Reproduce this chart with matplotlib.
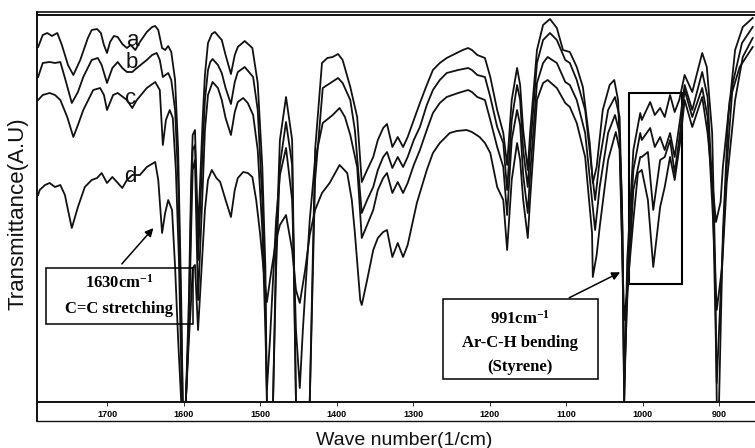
import matplotlib
matplotlib.use("Agg")
import matplotlib.pyplot as plt
from matplotlib.lines import Line2D
from matplotlib.patches import Rectangle

plt.rcParams['mathtext.fontset'] = 'custom'
plt.rcParams['mathtext.rm'] = 'Liberation Serif:bold'
plt.rcParams['mathtext.it'] = 'Liberation Serif:bold'
plt.rcParams['mathtext.bf'] = 'Liberation Serif:bold'
plt.rcParams['mathtext.default'] = 'rm'

# FTIR spectra: wave number (1/cm) and transmittance (A.U.)
wn_a = [1790, 1784, 1778, 1772, 1765, 1759, 1751, 1744, 1735, 1725, 1720, 1713, 1708, 1704, 1700,
        1696, 1691, 1686, 1680, 1674, 1669, 1663, 1657, 1648, 1641, 1637, 1633, 1628, 1624, 1620,
        1616, 1611, 1607, 1603, 1601, 1597, 1593, 1590, 1588, 1585, 1581, 1575, 1572, 1568, 1563,
        1559, 1550, 1545, 1538, 1533, 1529, 1520, 1510, 1503, 1497, 1493, 1491, 1483, 1479, 1474,
        1466, 1458, 1453, 1435, 1428, 1419, 1412, 1405, 1398, 1392, 1382, 1373, 1367, 1360, 1352,
        1346, 1339, 1334, 1327, 1320, 1313, 1307, 1299, 1291, 1282, 1274, 1265, 1256, 1243, 1235,
        1228, 1223, 1216, 1206, 1199, 1190, 1182, 1177, 1171, 1164, 1160, 1156, 1150, 1147, 1138,
        1130, 1121, 1112, 1104, 1095, 1086, 1078, 1069, 1065, 1060, 1052, 1043, 1037, 1032, 1027,
        1024, 1020, 1012, 1003, 1001, 990, 984, 977, 971, 964, 958, 952, 945, 935, 922,
        916, 909, 905, 903, 900, 895, 888, 879, 869, 856]
t_a = [355, 367, 369, 366, 369, 357, 337, 327, 342, 364, 372, 373, 369, 357, 349,
       360, 366, 365, 358, 354, 357, 352, 360, 370, 375, 376, 372, 354, 352, 356,
       350, 322, 252, 102, 0, 0, 102, 222, 267, 272, 169, 282, 327, 359, 368,
       370, 362, 347, 328, 347, 355, 361, 354, 319, 235, 135, 0, 0, 152, 262,
       305, 262, 0, 0, 252, 339, 344, 345, 348, 342, 315, 285, 220, 232, 245,
       262, 274, 278, 255, 265, 255, 265, 282, 299, 317, 332, 339, 344, 349, 352,
       354, 352, 347, 344, 325, 292, 269, 237, 302, 334, 317, 272, 232, 269, 352,
       377, 383, 374, 352, 350, 335, 315, 259, 219, 235, 292, 317, 322, 302, 202,
       0, 142, 252, 289, 282, 300, 287, 294, 285, 307, 290, 302, 327, 310, 349,
       335, 269, 135, 0, 0, 169, 285, 352, 375, 384]

wn_b = [1790, 1784, 1775, 1768, 1761, 1755, 1746, 1738, 1731, 1720, 1712, 1707, 1700, 1693, 1686,
        1680, 1674, 1667, 1661, 1648, 1641, 1635, 1631, 1627, 1620, 1616, 1611, 1607, 1603, 1601,
        1597, 1593, 1590, 1588, 1585, 1581, 1575, 1572, 1568, 1565, 1562, 1555, 1550, 1545, 1538,
        1533, 1529, 1520, 1509, 1503, 1497, 1493, 1491, 1483, 1479, 1474, 1466, 1458, 1453, 1435,
        1428, 1418, 1406, 1398, 1392, 1382, 1376, 1367, 1360, 1352, 1346, 1339, 1334, 1327, 1320,
        1313, 1307, 1299, 1291, 1282, 1274, 1265, 1256, 1241, 1228, 1223, 1216, 1206, 1199, 1190,
        1182, 1177, 1171, 1164, 1160, 1156, 1150, 1147, 1138, 1130, 1121, 1112, 1101, 1095, 1086,
        1075, 1066, 1062, 1056, 1045, 1036, 1030, 1026, 1024, 1020, 1012, 1003, 1001, 990, 984,
        977, 971, 964, 958, 951, 945, 935, 922, 915, 908, 903, 896, 890, 882, 870, 856]
t_b = [325, 339, 340, 339, 340, 324, 299, 310, 325, 342, 344, 337, 319, 334, 340,
       334, 330, 330, 334, 342, 347, 349, 342, 325, 329, 322, 292, 222, 82, 0,
       0, 82, 202, 252, 257, 142, 252, 302, 332, 340, 343, 337, 329, 314, 298,
       320, 330, 335, 325, 292, 202, 102, 0, 0, 132, 237, 280, 237, 0, 0,
       222, 314, 320, 324, 319, 302, 272, 189, 202, 215, 232, 245, 250, 234, 245,
       235, 245, 262, 275, 297, 312, 322, 329, 332, 334, 332, 327, 325, 305, 275,
       259, 212, 282, 317, 302, 252, 215, 252, 339, 362, 369, 362, 342, 339, 322,
       292, 229, 202, 242, 292, 305, 285, 169, 0, 122, 232, 269, 262, 274, 255,
       265, 252, 269, 245, 282, 317, 292, 330, 305, 202, 19, 142, 235, 319, 359, 375]

wn_c = [1790, 1784, 1775, 1768, 1761, 1752, 1744, 1738, 1731, 1718, 1709, 1704, 1700, 1692, 1686,
        1674, 1667, 1661, 1648, 1637, 1631, 1627, 1623, 1618, 1614, 1610, 1606, 1602, 1597, 1593,
        1590, 1588, 1585, 1581, 1575, 1572, 1568, 1562, 1555, 1550, 1545, 1538, 1533, 1529, 1522,
        1516, 1509, 1503, 1497, 1493, 1491, 1487, 1479, 1474, 1466, 1458, 1453, 1448, 1444, 1435,
        1428, 1418, 1405, 1396, 1389, 1382, 1373, 1367, 1360, 1352, 1346, 1339, 1334, 1327, 1320,
        1313, 1307, 1299, 1291, 1282, 1274, 1265, 1256, 1241, 1228, 1223, 1216, 1206, 1199, 1190,
        1182, 1177, 1171, 1164, 1160, 1156, 1150, 1147, 1138, 1130, 1124, 1112, 1101, 1095, 1086,
        1075, 1066, 1062, 1056, 1045, 1036, 1030, 1026, 1024, 1020, 1012, 1003, 1001, 993, 986,
        977, 971, 964, 958, 951, 945, 935, 922, 915, 908, 903, 896, 890, 879, 869, 856]
t_c = [302, 307, 309, 307, 302, 285, 265, 277, 292, 312, 314, 307, 292, 307, 309,
       302, 294, 302, 314, 320, 312, 257, 282, 292, 284, 232, 142, 0, 0, 72,
       172, 232, 242, 102, 212, 272, 307, 320, 314, 302, 284, 267, 290, 300, 304,
       299, 287, 252, 172, 72, 12, 62, 182, 227, 254, 202, 72, 14, 72, 182,
       242, 279, 287, 294, 285, 267, 235, 164, 177, 192, 212, 224, 229, 209, 220,
       209, 219, 237, 252, 272, 289, 299, 305, 309, 312, 310, 305, 302, 282, 255,
       235, 187, 262, 292, 277, 227, 189, 227, 319, 339, 345, 339, 320, 317, 302,
       269, 202, 172, 215, 269, 287, 269, 135, 19, 102, 212, 245, 245, 250, 192,
       242, 245, 262, 229, 269, 312, 285, 314, 285, 185, 92, 135, 219, 302, 345, 364]

wn_d = [1790, 1788, 1781, 1775, 1768, 1761, 1755, 1751, 1746, 1738, 1729, 1720, 1713, 1707, 1700,
        1693, 1687, 1680, 1674, 1667, 1657, 1648, 1637, 1633, 1628, 1624, 1620, 1615, 1611, 1607,
        1603, 1597, 1593, 1590, 1588, 1585, 1581, 1575, 1572, 1568, 1563, 1557, 1552, 1545, 1538,
        1533, 1529, 1522, 1516, 1510, 1505, 1500, 1494, 1491, 1486, 1479, 1474, 1466, 1458, 1453,
        1448, 1441, 1435, 1428, 1419, 1409, 1396, 1386, 1380, 1376, 1369, 1367, 1360, 1352, 1346,
        1339, 1334, 1327, 1320, 1313, 1307, 1295, 1282, 1274, 1265, 1252, 1243, 1230, 1223, 1213,
        1206, 1199, 1190, 1182, 1177, 1171, 1164, 1160, 1156, 1150, 1147, 1138, 1130, 1124, 1112,
        1101, 1095, 1086, 1075, 1066, 1065, 1060, 1056, 1045, 1035, 1030, 1026, 1024, 1020, 1012,
        1006, 1001, 993, 986, 977, 971, 964, 958, 951, 945, 935, 922, 915, 909, 904, 898,
        895, 886, 873, 856]
t_d = [207, 212, 217, 219, 215, 217, 207, 192, 174, 195, 215, 222, 224, 229, 219,
       225, 220, 214, 222, 227, 227, 235, 240, 222, 169, 189, 202, 192, 135, 62,
       0, 0, 62, 102, 134, 137, 72, 152, 192, 222, 232, 224, 220, 202, 185,
       212, 224, 230, 229, 225, 202, 169, 122, 100, 127, 162, 177, 187, 152, 112,
       99, 132, 167, 192, 209, 219, 237, 229, 202, 169, 102, 97, 122, 152, 164,
       170, 172, 145, 159, 145, 157, 199, 232, 249, 259, 269, 271, 272, 270, 265,
       259, 249, 215, 202, 152, 222, 259, 242, 202, 164, 202, 302, 319, 322, 314,
       299, 295, 279, 245, 169, 125, 147, 175, 242, 270, 252, 135, 82, 112, 182,
       229, 232, 202, 135, 195, 215, 245, 222, 259, 302, 275, 305, 269, 222, 180, 200,
       235, 302, 335, 355]

curve_names = ['a', 'b', 'c', 'd']
label_wn = [1666, 1667, 1669, 1669]
label_t = [362, 339, 304, 225]
ticks = [1700, 1600, 1500, 1400, 1300, 1200, 1100, 1000, 900]

W, H = 755, 448
fig = plt.figure(figsize=(W / 100, H / 100), dpi=100)
ax = fig.add_axes([37 / W, 1 - 402 / H, 718 / W, 387 / H])

ink = '#111111'
for wn, t in [(wn_a, t_a), (wn_b, t_b), (wn_c, t_c), (wn_d, t_d)]:
    ax.plot(wn, t, color=ink, lw=1.3)

for name, x, y in zip(curve_names, label_wn, label_t):
    ax.text(x, y, name, fontsize=16, family='Liberation Sans', ha='center', va='center', color=ink)

ax.set_xlim(1791.5, 853)
ax.set_ylim(0, 387)
ax.set_xticks(ticks)
ax.set_xticklabels([str(t) for t in ticks], fontsize=6.5, family='Liberation Sans', weight='bold')
ax.set_yticks([])
ax.tick_params(axis='x', direction='out', length=3, width=0.6, pad=3, color=ink)
for s in ['top', 'bottom', 'left']:
    ax.spines[s].set_linewidth(1.4)
    ax.spines[s].set_color(ink)
ax.spines['right'].set_visible(False)

# highlighted 991 region
ax.add_patch(Rectangle((1018, 118), 949 - 1018, 309 - 118, fill=False, lw=1.5, ec='black'))

# annotation boxes
ax.add_patch(Rectangle((1780, 78), 1588 - 1780, 134 - 78, fill=False, lw=1.1, ec='black', zorder=3))
ax.add_patch(Rectangle((1261, 23), 1058 - 1261, 103 - 23, fc='white', lw=1.1, ec='black', zorder=3))
serif = dict(family='Liberation Serif', weight='bold', fontsize=12, ha='center', va='center', zorder=4)
ax.text(1684, 119, r'1630cm$^{-1}$', **serif)
ax.text(1684, 93, 'C=C stretching', **serif)
ax.text(1160, 83, r'991cm$^{-1}$', **serif)
ax.text(1160, 59, 'Ar-C-H bending', **serif)
ax.text(1160, 35, '(Styrene)', **serif)

arrow = dict(arrowstyle='-|>', color='black', lw=1.1, mutation_scale=12)
ax.annotate('', xy=(1637, 176), xytext=(1683, 136), arrowprops=arrow)
ax.annotate('', xy=(1026, 131), xytext=(1099, 103), arrowprops=arrow)

# outer frame pieces of the instrument plot
fx0 = 37 / W
fig.add_artist(Line2D([fx0, 1], [1 - 421 / H] * 2, color=ink, lw=1.0))
fig.add_artist(Line2D([fx0, fx0], [1 - 421 / H, 1 - 402 / H], color=ink, lw=1.4))
fig.add_artist(Line2D([fx0, 1], [1 - 12 / H] * 2, color=ink, lw=1.2))
fig.add_artist(Line2D([fx0, fx0], [1 - 15 / H, 1 - 12 / H], color=ink, lw=1.4))

fig.text(18 / W, 1 - 214 / H, 'Transmittance(A.U)', rotation=90, fontsize=16,
         family='Liberation Sans', ha='center', va='center', color=ink)
fig.text(404 / W, 1 - 440 / H, 'Wave number(1/cm)', fontsize=14,
         family='Liberation Sans', ha='center', va='center', color=ink)

fig.savefig('out.png', dpi=100)
